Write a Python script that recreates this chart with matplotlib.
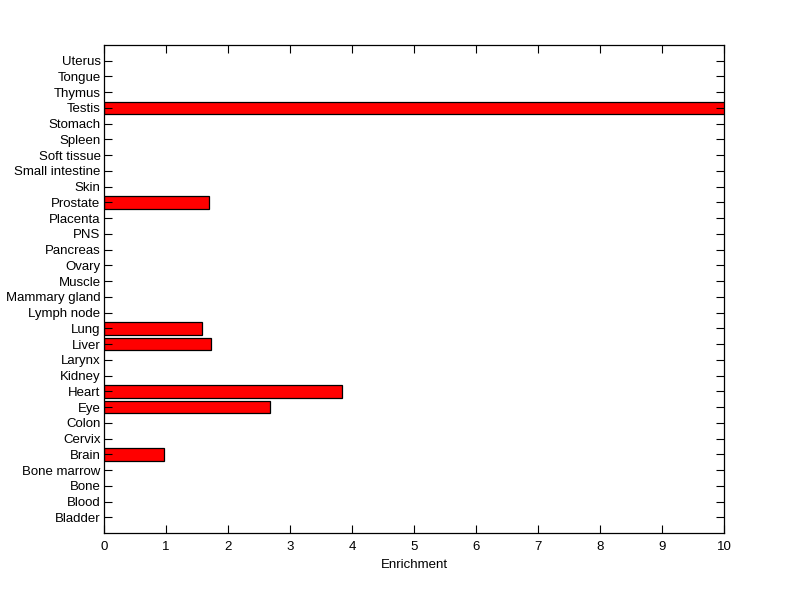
import matplotlib
matplotlib.use("Agg")
import matplotlib.pyplot as plt

# tissue categories, bottom to top
tissues = ["Bladder", "Blood", "Bone", "Bone marrow", "Brain", "Cervix", "Colon",
           "Eye", "Heart", "Kidney", "Larynx", "Liver", "Lung", "Lymph node",
           "Mammary gland", "Muscle", "Ovary", "Pancreas", "PNS", "Placenta",
           "Prostate", "Skin", "Small intestine", "Soft tissue", "Spleen",
           "Stomach", "Testis", "Thymus", "Tongue", "Uterus"]
enrichment = [0, 0, 0, 0, 0.97, 0, 0,
              2.68, 3.84, 0, 0, 1.73, 1.58, 0,
              0, 0, 0, 0, 0, 0,
              1.69, 0, 0, 0, 0,
              0, 10.5, 0, 0, 0]
xticks = list(range(0, 11))

plt.rcParams['font.family'] = ['Liberation Sans', 'DejaVu Sans']
fig = plt.figure(figsize=(8, 5.99), dpi=100)
ax = fig.add_axes([0.13, 0.11, 0.775, 0.815])

pos = list(range(1, len(tissues) + 1))
nz = [(p, v) for p, v in zip(pos, enrichment) if v > 0]
ax.barh([p for p, v in nz], [v for p, v in nz], height=0.8,
        color='#ff0000', edgecolor='black', linewidth=0.9)

ax.set_xlim(0, 10)
ax.set_ylim(0, len(tissues) + 1)
ax.set_xticks(xticks)
ax.set_yticks(pos)
ax.set_yticklabels(tissues)
ax.set_xlabel("Enrichment", fontsize=9.5, labelpad=4)

ax.tick_params(direction='in', length=6, width=0.8, labelsize=9.5,
               top=True, right=True)
ax.tick_params(axis='x', pad=6)
ax.tick_params(axis='y', pad=2.5)
for s in ax.spines.values():
    s.set_linewidth(0.9)

fig.savefig("out.png", dpi=100)
